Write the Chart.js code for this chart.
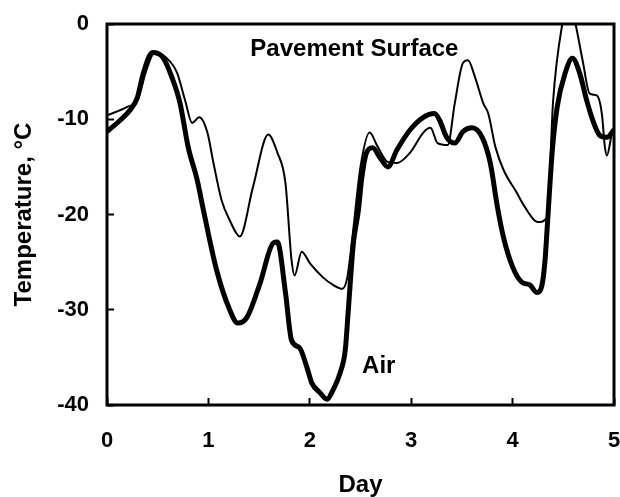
<!DOCTYPE html>
<html>
<head>
<meta charset="utf-8">
<title>Pavement surface and air temperature</title>
<script src="https://cdn.jsdelivr.net/npm/chart.js@4/dist/chart.umd.min.js"></script>
<style>
  html, body { margin: 0; padding: 0; background: #ffffff; }
  #tempChart { display: block; }
</style>
</head>
<body>
<canvas id="tempChart" width="620" height="497"></canvas>
<script>
"use strict";

// Air temperature (thick line)
const airDay = [
  0.00, 0.13, 0.23, 0.30, 0.36, 0.45, 0.55, 0.64, 0.72, 0.80, 0.89, 0.95,
  1.08, 1.21, 1.29, 1.38, 1.51, 1.64, 1.68, 1.76, 1.82, 1.90, 1.97, 2.02,
  2.10, 2.17, 2.23, 2.30, 2.35, 2.38, 2.43, 2.48, 2.51, 2.56, 2.62, 2.69,
  2.77, 2.86, 2.99, 3.12, 3.23, 3.28, 3.35, 3.43, 3.51, 3.60, 3.70, 3.78,
  3.85, 3.91, 4.00, 4.09, 4.17, 4.24, 4.29, 4.32, 4.34, 4.39, 4.44, 4.52,
  4.59, 4.66, 4.73, 4.79, 4.86, 4.93, 5.00,
];
const airTemp = [
  -11.3, -10.1, -9.0, -7.7, -5.1, -3.0, -3.5, -5.6, -8.3, -12.9, -16.4, -19.5,
  -25.8, -30.0, -31.4, -30.8, -27.2, -23.0, -22.9, -28.2, -33.2, -34.0, -36.0, -37.7,
  -38.7, -39.4, -38.4, -36.6, -34.2, -30.0, -23.0, -19.5, -16.4, -13.5, -13.0, -14.0,
  -15.0, -13.2, -11.1, -9.8, -9.4, -10.1, -11.9, -12.5, -11.3, -10.9, -11.9, -14.6,
  -19.2, -22.4, -25.5, -27.1, -27.4, -28.2, -27.4, -24.8, -21.6, -13.5, -8.7, -5.1,
  -3.6, -5.1, -8.0, -10.1, -11.7, -11.9, -11.1,
];

// Pavement surface temperature (thin line)
const paveDay = [
  0.00, 0.20, 0.30, 0.39, 0.47, 0.59, 0.69, 0.77, 0.84, 0.91, 0.99, 1.05,
  1.13, 1.21, 1.31, 1.44, 1.59, 1.68, 1.76, 1.82, 1.85, 1.92, 2.00, 2.13,
  2.23, 2.32, 2.37, 2.42, 2.50, 2.59, 2.67, 2.77, 2.86, 2.99, 3.12, 3.19,
  3.26, 3.36, 3.43, 3.51, 3.56, 3.63, 3.71, 3.76, 3.83, 3.91, 4.04, 4.12,
  4.25, 4.34, 4.40, 4.49, 4.55, 4.62, 4.69, 4.76, 4.83, 4.88, 4.91, 4.93,
  4.98, 5.00,
];
const paveTemp = [
  -9.6, -8.7, -8.0, -4.8, -3.0, -3.6, -5.1, -8.0, -10.4, -9.8, -11.4, -14.6,
  -18.5, -20.6, -22.3, -17.1, -11.6, -13.5, -16.7, -24.8, -26.4, -23.9, -25.1, -26.6,
  -27.4, -27.8, -26.6, -22.4, -15.0, -11.4, -12.9, -14.5, -14.6, -13.5, -11.4, -10.9,
  -12.5, -12.7, -8.3, -4.1, -3.8, -5.6, -8.3, -9.4, -12.9, -15.3, -17.7, -19.2,
  -20.8, -20.3, -8.0, 0.0, 2.5, 0.0, -3.8, -7.3, -7.5, -9.4, -12.9, -13.8,
  -11.5, -11.1,
];

// Curve labels placed in data units
const labelText = ["Pavement Surface", "Air"];
const labelDay = [2.44, 2.68];
const labelTemp = [-2.7, -35.9];

const dayTicks = [0, 1, 2, 3, 4, 5];
const tempTicks = [-40, -30, -20, -10, 0];

const toPoints = (xs, ys) => xs.map((x, i) => ({ x: x, y: ys[i] }));

const BOLD = "'Liberation Sans', Arial, Helvetica, sans-serif";

// drop the automatic label overhang so the layout padding is exact
const noScalePadding = (s) => {
  s.paddingLeft = 0;
  s.paddingRight = 0;
  s.paddingTop = 0;
  s.paddingBottom = 0;
};

// closed frame around the plot + curve labels
const framePlugin = {
  id: "frame",
  afterDatasetsDraw(chart) {
    const { ctx, chartArea, scales } = chart;
    ctx.save();
    ctx.strokeStyle = "#000";
    ctx.lineWidth = 3;
    ctx.strokeRect(chartArea.left, chartArea.top,
      chartArea.right - chartArea.left, chartArea.bottom - chartArea.top);

    ctx.fillStyle = "#000";
    ctx.font = "bold 24px " + BOLD;
    ctx.textAlign = "center";
    ctx.textBaseline = "middle";
    labelText.forEach((txt, i) => {
      ctx.fillText(txt, scales.x.getPixelForValue(labelDay[i]),
        scales.y.getPixelForValue(labelTemp[i]));
    });
    ctx.restore();
  },
};

new Chart(document.getElementById("tempChart").getContext("2d"), {
  type: "line",
  data: {
    datasets: [
      {
        label: "Pavement Surface",
        data: toPoints(paveDay, paveTemp),
        borderColor: "#000",
        borderWidth: 2,
        pointRadius: 0,
        cubicInterpolationMode: "monotone",
        fill: false,
      },
      {
        label: "Air",
        data: toPoints(airDay, airTemp),
        borderColor: "#000",
        borderWidth: 5,
        pointRadius: 0,
        cubicInterpolationMode: "monotone",
        fill: false,
      },
    ],
  },
  options: {
    responsive: false,
    animation: false,
    layout: { padding: { left: 0, right: 6, top: 24, bottom: 0 } },
    plugins: {
      legend: { display: false },
      tooltip: { enabled: false },
    },
    scales: {
      x: {
        type: "linear",
        min: 0,
        max: 5,
        afterBuildTicks: (s) => { s.ticks = dayTicks.map((v) => ({ value: v })); },
        afterFit: (s) => { s.height = 92; noScalePadding(s); },
        border: { display: false },
        grid: {
          drawOnChartArea: false,
          drawTicks: true,
          tickLength: -7,
          tickWidth: 2,
          tickColor: "#000",
        },
        ticks: {
          padding: 30,
          color: "#000",
          maxRotation: 0,
          font: { family: BOLD, size: 22, weight: "bold" },
        },
        title: {
          display: true,
          text: "Day",
          color: "#000",
          padding: { top: 0, bottom: 0 },
          font: { family: BOLD, size: 24, weight: "bold", lineHeight: 1.0 },
        },
      },
      y: {
        min: -40,
        max: 0,
        afterBuildTicks: (s) => { s.ticks = tempTicks.map((v) => ({ value: v })); },
        afterFit: (s) => { s.width = 107; noScalePadding(s); },
        border: { display: false },
        grid: {
          drawOnChartArea: false,
          drawTicks: true,
          tickLength: -7,
          tickWidth: 2,
          tickColor: "#000",
        },
        ticks: {
          padding: 25,
          color: "#000",
          font: { family: BOLD, size: 22, weight: "bold" },
        },
        title: {
          display: true,
          text: "Temperature, °C",
          color: "#000",
          padding: { top: 10, bottom: 0 },
          font: { family: BOLD, size: 24, weight: "bold" },
        },
      },
    },
  },
  plugins: [framePlugin],
});
</script>
</body>
</html>
